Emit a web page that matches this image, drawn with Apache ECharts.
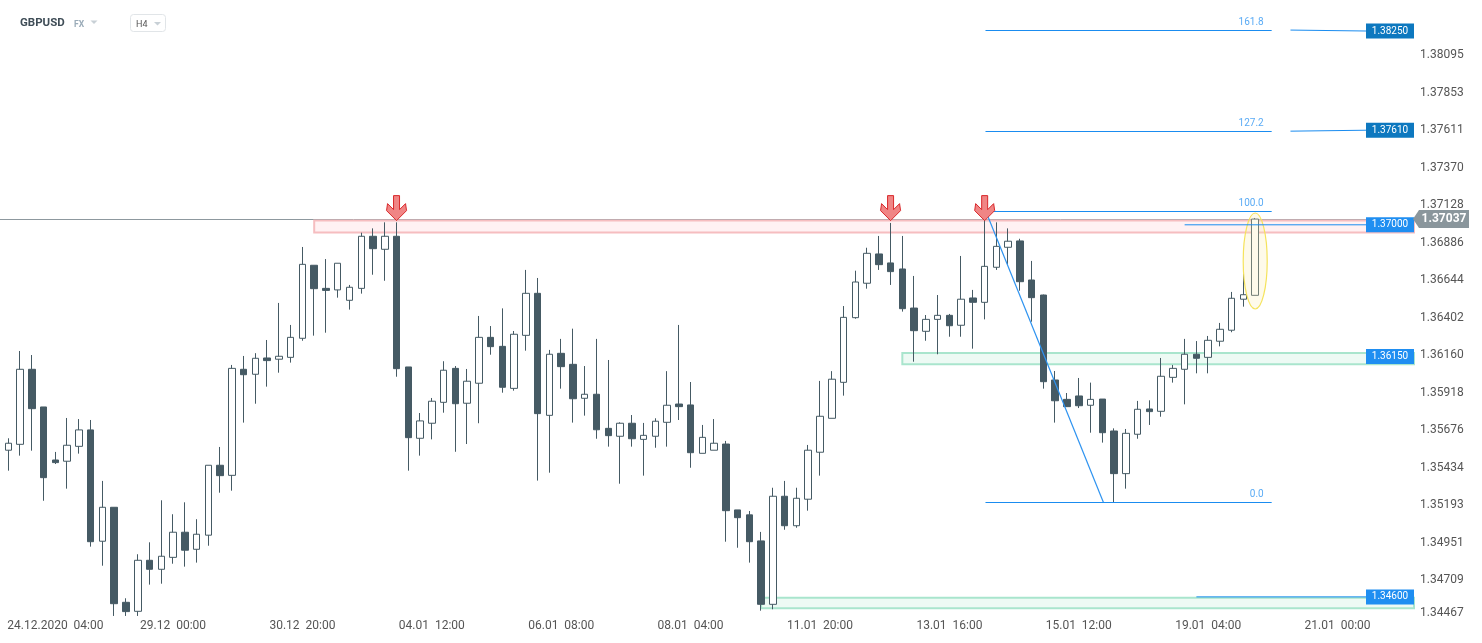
<!DOCTYPE html>
<html><head><meta charset="utf-8">
<script src="https://cdn.jsdelivr.net/npm/echarts@6/dist/echarts.min.js"></script>
<style>html,body{margin:0;padding:0;background:#fff;}#c{width:1482px;height:643px;}</style>
</head><body><div id="c"></div>
<script>
// ---- categories (H4 sessions) ----
const sessions = [
 ['23.12',[12,16,20]],['24.12',[0,4,8,12]],['27.12',[22]],['28.12',[0,4,8,12,16,20]],
 ['29.12',[0,4,8,12,16,20]],['30.12',[0,4,8,12,16,20]],['31.12',[0,4,8,12,16,20]],['03.01',[22]],
 ['04.01',[0,4,8,12,16,20]],['05.01',[0,4,8,12,16,20]],['06.01',[0,4,8,12,16,20]],['07.01',[0,4,8,12,16,20]],
 ['08.01',[0,4,8,12,16,20]],['10.01',[22]],['11.01',[0,4,8,12,16,20]],['12.01',[0,4,8,12,16,20]],
 ['13.01',[0,4,8,12,16,20]],['14.01',[0,4,8,12,16,20]],['15.01',[0,4,8,12,16,20]],['17.01',[22]],
 ['18.01',[0,4,8,12,16,20]],['19.01',[0,4,8,12,16,20]],['20.01',[0,4,8,12,16,20]],['21.01',[0,4,8,12,16,20]],['22.01',[0]]
];
const categories = [];
sessions.forEach(s => s[1].forEach(h => categories.push(s[0] + ' ' + String(h).padStart(2,'0') + ':00')));

const xTickIdx  = [4,14,25,36,47,58,69,80,91,102,113];
const xTickText = ['24.12.2020  04:00','29.12  00:00','30.12  20:00','04.01  12:00','06.01  08:00','08.01  04:00',
                   '11.01  20:00','13.01  16:00','15.01  12:00','19.01  04:00','21.01  00:00'];

const yMin = 1.34467, yMax = 1.38450, yStep = 0.0024186;
const yTickLabels = ['1.34467','1.34709','1.34951','1.35193','1.35434','1.35676','1.35918','1.36160',
                     '1.36402','1.36644','1.36886','1.37128','1.37370','1.37611','1.37853','1.38095'];

// ---- OHLC ----
const opens = [
1.35546,1.35584,1.36068,1.35825,1.35483,1.35475,1.35571,1.35677,1.34959,1.35178,
1.34565,1.34507,1.34836,1.34778,1.34855,1.35017,1.34907,1.34998,1.35449,1.35384,
1.36068,1.36036,1.36141,1.36133,1.36145,1.36268,1.36739,1.36590,1.36580,1.36513,
1.36590,1.36926,1.36842,1.36926,1.36083,1.35623,1.35720,1.35855,1.36074,1.35849,
1.35978,1.36274,1.36216,1.35945,1.36287,1.36558,1.35771,1.36171,1.36100,1.35881,
1.35907,1.35687,1.35636,1.35720,1.35616,1.35636,1.35726,1.35844,1.35838,1.35526,
1.35546,1.35586,1.35161,1.35129,1.34961,1.34552,1.35249,1.35059,1.35230,1.35533,
1.35752,1.35984,1.36401,1.36623,1.36812,1.36754,1.36715,1.36463,1.36313,1.36390,
1.36416,1.36352,1.36528,1.36500,1.36726,1.36855,1.36896,1.36644,1.36547,1.35999,
1.35874,1.35896,1.35836,1.35876,1.35670,1.35395,1.35649,1.35812,1.35797,1.36016,
1.36068,1.36165,1.36145,1.36249,1.36320,1.36520,1.36545];
const closes = [
1.35591,1.36068,1.35814,1.35369,1.35466,1.35578,1.35677,1.34956,1.35178,1.34556,
1.34505,1.34836,1.34778,1.34862,1.35017,1.34901,1.35004,1.35449,1.35382,1.36074,
1.36033,1.36139,1.36124,1.36152,1.36274,1.36745,1.36588,1.36577,1.36752,1.36597,
1.36926,1.36846,1.36926,1.36072,1.35627,1.35735,1.35862,1.36062,1.35846,1.35991,
1.36274,1.36214,1.35952,1.36294,1.36558,1.35782,1.36165,1.36085,1.35878,1.35907,
1.35678,1.35640,1.35720,1.35620,1.35642,1.35733,1.35836,1.35827,1.35530,1.35629,
1.35591,1.35156,1.35111,1.34956,1.34552,1.35249,1.35059,1.35236,1.35546,1.35765,
1.36004,1.36403,1.36631,1.36816,1.36743,1.36698,1.36459,1.36317,1.36390,1.36416,
1.36349,1.36520,1.36500,1.36732,1.36861,1.36894,1.36633,1.36530,1.35988,1.35865,
1.35827,1.35833,1.35874,1.35659,1.35395,1.35655,1.35810,1.35795,1.36023,1.36074,
1.36165,1.36139,1.36255,1.36326,1.36526,1.36549,1.37037];
const lows = [
1.35414,1.35511,1.35543,1.35220,1.35457,1.35298,1.35524,1.34924,1.34801,1.34477,
1.34477,1.34477,1.34679,1.34685,1.34814,1.34795,1.34821,1.34930,1.35272,1.35285,
1.35724,1.35846,1.35956,1.36046,1.36111,1.36252,1.36285,1.36304,1.36530,1.36453,
1.36556,1.36678,1.36639,1.36020,1.35414,1.35511,1.35616,1.35788,1.35536,1.35586,
1.35720,1.36162,1.35917,1.35930,1.36188,1.35350,1.35401,1.35943,1.35724,1.35769,
1.35620,1.35569,1.35330,1.35569,1.35382,1.35562,1.35569,1.35741,1.35433,1.35526,
1.35546,1.34956,1.34917,1.34821,1.34511,1.34520,1.35033,1.35046,1.35156,1.35382,
1.35752,1.35898,1.36394,1.36588,1.36709,1.36612,1.36440,1.36117,1.36252,1.36165,
1.36278,1.36278,1.36201,1.36390,1.36709,1.36743,1.36575,1.36375,1.35943,1.35724,
1.35825,1.35818,1.35659,1.35595,1.35209,1.35298,1.35620,1.35709,1.35762,1.35982,
1.35842,1.36042,1.36042,1.36216,1.36307,1.36472,1.36545];
const highs = [
1.35623,1.36186,1.36160,1.35825,1.35535,1.35754,1.35747,1.35741,1.35348,1.35178,
1.34591,1.34875,1.34952,1.35223,1.35133,1.35210,1.35101,1.35449,1.35567,1.36096,
1.36154,1.36172,1.36257,1.36496,1.36354,1.36857,1.36739,1.36779,1.36752,1.36612,
1.36949,1.36977,1.37016,1.37016,1.36083,1.35786,1.35883,1.36120,1.36089,1.36070,
1.36412,1.36347,1.36461,1.36315,1.36709,1.36657,1.36193,1.36264,1.36330,1.36089,
1.36264,1.36128,1.35726,1.35773,1.35722,1.35752,1.36056,1.36354,1.35986,1.35709,
1.35747,1.35606,1.35161,1.35154,1.35019,1.35304,1.35348,1.35304,1.35580,1.35993,
1.36056,1.36476,1.36704,1.36852,1.36928,1.37012,1.36928,1.36670,1.36418,1.36547,
1.36425,1.36799,1.36580,1.37092,1.37016,1.36977,1.36910,1.36767,1.36550,1.36057,
1.35915,1.36012,1.35982,1.35876,1.35687,1.35683,1.35864,1.35868,1.36141,1.36096,
1.36264,1.36250,1.36283,1.36367,1.36567,1.36683,1.37044];

// ---- annotations ----
const lastPrice = 1.37037, lastPriceText = '1.37037';
const zoneStart = [26, 76, 64];
const zoneTop = [1.37027, 1.36173, 1.34595];
const zoneBottom = [1.36951, 1.36100, 1.34526];
const levelValues = [1.38250, 1.37610, 1.37000, 1.36150, 1.34600];
const levelTexts = ['1.38250', '1.37610', '1.37000', '1.36150', '1.34600'];
const connFromIdx = [109, 109, 100, null, 101];
const connFromPrice = [1.38256, 1.37604, 1.37000, null, 1.34600];
const fibPrices = [1.35209, 1.37092, 1.37604, 1.38256];
const fibTexts = ['0.0', '100.0', '127.2', '161.8'];
const fibFromIdx = 83.07, fibToIdx = 107.4;
const trendFrom = [83.07, 1.37092], trendTo = [93.1, 1.35209];
const arrowIdx = [33, 75, 83];
const arrowPrice = [1.37027, 1.37027, 1.37027];
const ellipseIdx = 106, ellipseTop = 1.37076, ellipseBottom = 1.36457;

const candleData = opens.map((o, i) => [o, closes[i], lows[i], highs[i]]);
const DARK = '#455a64';
const FONT = 'Roboto';

function helpers(api){
  const bw = api.size([1, 0])[0];
  const X = f => { const i = Math.floor(f); return api.coord([i, yMin])[0] + (f - i) * bw; };
  const Y = p => api.coord([0, p])[1];
  return {X, Y, bw};
}

function renderBack(params, api){
  const cs = params.coordSys, right = cs.x + cs.width;
  const {X, Y} = helpers(api);
  const ch = [];
  const yl = Math.round(Y(lastPrice)) + 0.5;
  ch.push({type:'line', shape:{x1:0, y1:yl, x2:right, y2:yl}, style:{stroke:'#8d989e', lineWidth:1}});
  const fills = ['rgba(255,225,228,0.45)', 'rgba(214,243,230,0.45)', 'rgba(214,243,230,0.45)'];
  const strokes = ['#f6bdc0', '#a9e5cd', '#a9e5cd'];
  for (let i = 0; i < zoneStart.length; i++){
    const x0 = X(zoneStart[i]);
    const yT = Y(zoneTop[i]), yB = Y(zoneBottom[i]);
    ch.push({type:'rect', shape:{x:x0, y:yT, width:right - x0, height:yB - yT},
      style:{fill:fills[i], stroke:strokes[i], lineWidth:2}});
  }
  return {type:'group', children:ch};
}

function renderTop(params, api){
  const cs = params.coordSys, right = cs.x + cs.width;
  const {X, Y} = helpers(api);
  const ch = [];
  // ellipse
  const ey1 = Y(ellipseTop), ey2 = Y(ellipseBottom);
  ch.push({type:'ellipse', shape:{cx:X(ellipseIdx), cy:(ey1 + ey2) / 2, rx:12, ry:(ey2 - ey1) / 2},
    style:{fill:'rgba(250,236,170,0.25)', stroke:'#f5e35c', lineWidth:1.2}});
  // trend line
  ch.push({type:'line', shape:{x1:X(trendFrom[0]), y1:Y(trendFrom[1]), x2:X(trendTo[0]), y2:Y(trendTo[1])},
    style:{stroke:'#2e93f0', lineWidth:1.2}});
  // fib levels
  const fx1 = X(fibFromIdx), fx2 = X(fibToIdx);
  fibPrices.forEach((p, i) => {
    const y = Math.round(Y(p)) + 0.5;
    ch.push({type:'line', shape:{x1:fx1, y1:y, x2:fx2, y2:y}, style:{stroke:'#1a8cf0', lineWidth:1}});
    ch.push({type:'text', x:fx2 - 8, y:y - 8, style:{text:fibTexts[i], fill:'#5aabf5', font:'10px ' + FONT, align:'right', verticalAlign:'middle'}});
  });
  // connectors and level labels
  const bx = right - 48;
  levelValues.forEach((p, i) => {
    const y = Y(p);
    if (connFromIdx[i] !== null){
      ch.push({type:'line', shape:{x1:X(connFromIdx[i]), y1:Y(connFromPrice[i]), x2:bx, y2:y}, style:{stroke:'#1a8cf0', lineWidth:1}});
    }
  });
  // arrows
  arrowIdx.forEach((idx, i) => {
    const x = X(idx), y = Y(arrowPrice[i]);
    const pts = [[-3,-25],[3,-25],[3,-11],[9,-17],[10,-10],[0,0],[-10,-10],[-9,-17],[-3,-11]].map(q => [x + q[0], y + q[1]]);
    ch.push({type:'polygon', shape:{points:pts}, style:{fill:'#f08585', stroke:'#d9282b', lineWidth:1}});
  });
  levelValues.forEach((p, i) => {
    const y = Y(p);
    ch.push({type:'rect', shape:{x:bx, y:y - 7.5, width:48, height:15},
      style:{fill: i < 2 ? '#0d78bf' : '#1f8ef1'}});
    ch.push({type:'text', x:bx + 24, y:y, style:{text:levelTexts[i], fill:'#ffffff', font:'10px ' + FONT, align:'center', verticalAlign:'middle'}});
  });
  // last price label
  const yl = Y(lastPrice);
  ch.push({type:'polygon', shape:{points:[[right - 1, yl],[right + 5, yl - 9],[right + 55, yl - 9],[right + 55, yl + 9],[right + 5, yl + 9]]},
    style:{fill:'#8a969c'}});
  ch.push({type:'text', x:right + 30, y:yl, style:{text:lastPriceText, fill:'#ffffff', font:'bold 12px ' + FONT, align:'center', verticalAlign:'middle'}});
  return {type:'group', children:ch};
}

const chart = echarts.init(document.getElementById('c'), null, {renderer:'canvas'});
chart.setOption({
  animation:false,
  backgroundColor:'#ffffff',
  grid:{left:2.5, right:68, top:0, bottom:25.5, containLabel:false},
  xAxis:{
    type:'category', data:categories, boundaryGap:true,
    axisLine:{show:false}, axisTick:{show:false}, splitLine:{show:false},
    axisLabel:{
      interval:(index) => xTickIdx.indexOf(index) >= 0,
      formatter:(value, index) => { const k = xTickIdx.indexOf(index); return k >= 0 ? xTickText[k] : ''; },
      color:'#555', fontSize:12, fontFamily:FONT, margin:2
    }
  },
  yAxis:{
    type:'value', position:'right', min:yMin, max:yMax, interval:yStep, scale:true,
    axisLine:{show:false}, axisTick:{show:false}, splitLine:{show:false},
    axisLabel:{
      showMinLabel:true, showMaxLabel:false,
      color:'#555', fontSize:12, fontFamily:FONT, margin:6,
      formatter:function(v){
        const k = Math.round((v - yMin) / yStep);
        if (k < 0 || k >= yTickLabels.length || Math.abs(v - (yMin + k * yStep)) > yStep * 0.02) return '';
        return k === 0 ? '{low|' + yTickLabels[k] + '}' : yTickLabels[k];
      },
      rich:{low:{padding:[0,0,9,0], color:'#555', fontSize:12, fontFamily:FONT}}
    }
  },
  graphic:[
    {type:'text', x:20, y:23.5, style:{text:'GBPUSD', fill:'#3f4d57', font:'bold 11.5px ' + FONT, verticalAlign:'middle'}},
    {type:'text', x:74, y:24.5, style:{text:'FX', fill:'#9aabb8', font:'bold 8.5px ' + FONT, verticalAlign:'middle'}},
    {type:'polygon', shape:{points:[[90.5,20.5],[97.5,20.5],[94,24]]}, style:{fill:'#c8d0d6'}},
    {type:'rect', shape:{x:130.5, y:14.5, width:35, height:17, r:3}, style:{fill:'#fff', stroke:'#e1e5e8', lineWidth:1}},
    {type:'text', x:136, y:24.5, style:{text:'H4', fill:'#555', font:'9px ' + FONT, verticalAlign:'middle'}},
    {type:'polygon', shape:{points:[[154,22],[161,22],[157.5,25.5]]}, style:{fill:'#c8d0d6'}}
  ],
  series:[
    {type:'custom', z:1, silent:true, clip:false, renderItem:renderBack, data:[[0, yMin]]},
    {type:'candlestick', z:2, data:candleData, barWidth:7,
      itemStyle:{color:'#ffffff', color0:DARK, borderColor:DARK, borderColor0:DARK, borderWidth:1}},
    {type:'custom', z:3, silent:true, clip:false, renderItem:renderTop, data:[[0, yMin]]}
  ]
});
</script>
</body></html>
